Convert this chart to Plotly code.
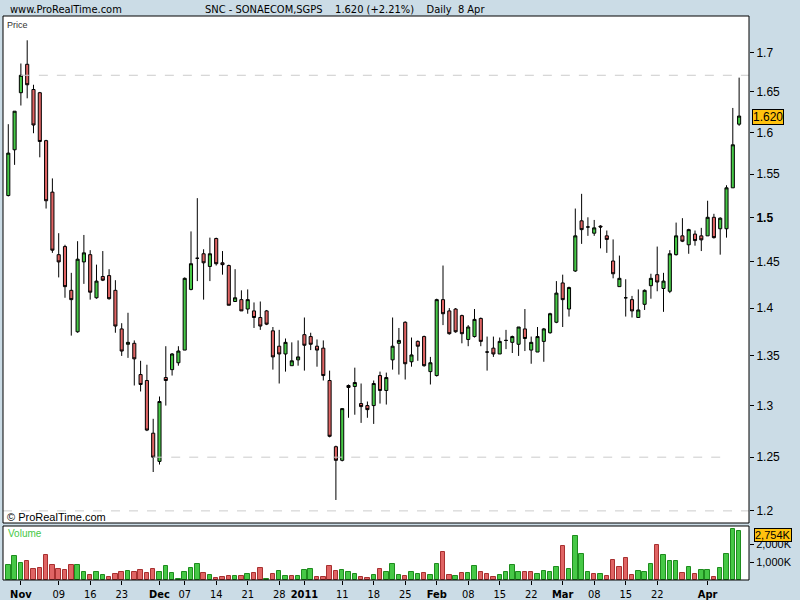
import plotly.graph_objects as go
import pandas as pd
import math

# ---------------- data ----------------
dates = pd.bdate_range("2010-10-28", "2011-04-08")  # 117 trading days

opens = [1.525, 1.579, 1.649, 1.685, 1.653, 1.649, 1.590, 1.529, 1.458, 1.467,
         1.419, 1.375, 1.450, 1.458, 1.411, 1.434, 1.435, 1.419, 1.378, 1.362,
         1.363, 1.331, 1.325, 1.273, 1.246, 1.328, 1.336, 1.343, 1.356, 1.420,
         1.454, 1.459, 1.445, 1.476, 1.449, 1.446, 1.407, 1.409, 1.399, 1.397,
         1.390, 1.397, 1.376, 1.360, 1.352, 1.340, 1.346, 1.372, 1.370, 1.360,
         1.358, 1.325, 1.260, 1.247, 1.320, 1.319, 1.302, 1.300, 1.300, 1.330,
         1.315, 1.346, 1.363, 1.385, 1.344, 1.365, 1.370, 1.334, 1.330, 1.409,
         1.397, 1.399, 1.392, 1.367, 1.370, 1.389, 1.354, 1.358, 1.352, 1.366,
         1.364, 1.362, 1.378, 1.356, 1.354, 1.365, 1.374, 1.385, 1.427, 1.399,
         1.440, 1.496, 1.489, 1.482, 1.490, 1.479, 1.451, 1.423, 1.411, 1.409,
         1.390, 1.404, 1.424, 1.436, 1.421, 1.418, 1.458, 1.479, 1.469, 1.481,
         1.479, 1.479, 1.500, 1.487, 1.487, 1.534, 1.610]
highs = [1.610, 1.626, 1.686, 1.716, 1.659, 1.650, 1.591, 1.545, 1.482, 1.469,
         1.438, 1.473, 1.480, 1.463, 1.447, 1.462, 1.442, 1.430, 1.384, 1.395,
         1.366, 1.345, 1.341, 1.287, 1.309, 1.360, 1.353, 1.360, 1.433, 1.484,
         1.522, 1.464, 1.477, 1.477, 1.462, 1.447, 1.442, 1.419, 1.420, 1.406,
         1.407, 1.398, 1.380, 1.377, 1.368, 1.364, 1.366, 1.390, 1.374, 1.367,
         1.366, 1.335, 1.261, 1.297, 1.321, 1.338, 1.322, 1.304, 1.325, 1.334,
         1.333, 1.390, 1.379, 1.386, 1.369, 1.366, 1.371, 1.349, 1.410, 1.446,
         1.400, 1.400, 1.393, 1.382, 1.399, 1.390, 1.370, 1.370, 1.369, 1.377,
         1.371, 1.380, 1.399, 1.370, 1.380, 1.379, 1.395, 1.429, 1.436, 1.423,
         1.510, 1.527, 1.500, 1.497, 1.491, 1.485, 1.475, 1.457, 1.431, 1.413,
         1.420, 1.420, 1.437, 1.467, 1.438, 1.463, 1.494, 1.499, 1.487, 1.485,
         1.488, 1.519, 1.504, 1.500, 1.537, 1.630, 1.668]
lows = [1.524, 1.561, 1.633, 1.642, 1.599, 1.570, 1.510, 1.460, 1.433, 1.411,
        1.371, 1.374, 1.426, 1.409, 1.410, 1.429, 1.409, 1.374, 1.350, 1.348,
        1.320, 1.314, 1.275, 1.236, 1.243, 1.300, 1.330, 1.340, 1.356, 1.419,
        1.429, 1.409, 1.429, 1.446, 1.436, 1.403, 1.407, 1.397, 1.394, 1.379,
        1.377, 1.382, 1.336, 1.322, 1.334, 1.340, 1.340, 1.335, 1.356, 1.339,
        1.325, 1.269, 1.210, 1.246, 1.288, 1.291, 1.283, 1.288, 1.282, 1.302,
        1.301, 1.336, 1.331, 1.326, 1.339, 1.345, 1.339, 1.321, 1.329, 1.382,
        1.372, 1.374, 1.363, 1.360, 1.369, 1.360, 1.335, 1.349, 1.352, 1.357,
        1.353, 1.350, 1.355, 1.342, 1.354, 1.344, 1.373, 1.384, 1.380, 1.391,
        1.439, 1.470, 1.479, 1.479, 1.465, 1.460, 1.432, 1.423, 1.391, 1.390,
        1.390, 1.398, 1.410, 1.418, 1.396, 1.416, 1.457, 1.472, 1.459, 1.468,
        1.462, 1.479, 1.476, 1.458, 1.477, 1.534, 1.608]
closes = [1.575, 1.626, 1.671, 1.659, 1.609, 1.589, 1.519, 1.463, 1.450, 1.423,
          1.409, 1.453, 1.460, 1.417, 1.429, 1.430, 1.410, 1.381, 1.355, 1.364,
          1.347, 1.321, 1.276, 1.250, 1.304, 1.325, 1.352, 1.355, 1.432, 1.448,
          1.454, 1.449, 1.459, 1.448, 1.447, 1.403, 1.411, 1.397, 1.409, 1.390,
          1.381, 1.383, 1.349, 1.352, 1.364, 1.345, 1.349, 1.361, 1.362, 1.356,
          1.330, 1.270, 1.247, 1.297, 1.318, 1.323, 1.299, 1.296, 1.322, 1.315,
          1.328, 1.360, 1.366, 1.342, 1.351, 1.360, 1.340, 1.343, 1.409, 1.394,
          1.373, 1.375, 1.373, 1.380, 1.388, 1.365, 1.354, 1.352, 1.365, 1.366,
          1.370, 1.380, 1.368, 1.364, 1.370, 1.378, 1.394, 1.416, 1.409, 1.422,
          1.479, 1.486, 1.489, 1.488, 1.489, 1.475, 1.437, 1.432, 1.411, 1.397,
          1.398, 1.419, 1.432, 1.428, 1.429, 1.459, 1.479, 1.473, 1.486, 1.4737,
          1.4745, 1.500, 1.477, 1.499, 1.534, 1.585, 1.620]
volumes_k = [833, 1333, 944, 1055, 611, 667, 1389, 833, 611, 556,
             833, 833, 444, 278, 444, 278, 167, 350, 444, 500,
             444, 556, 389, 611, 444, 778, 389, 56, 444, 667,
             889, 389, 278, 111, 167, 222, 222, 222, 333, 389,
             683, 56, 333, 500, 222, 222, 222, 556, 611, 167,
             167, 778, 500, 556, 444, 333, 167, 111, 278, 611,
             444, 889, 278, 222, 444, 333, 389, 278, 889, 1556,
             278, 222, 389, 389, 778, 444, 333, 167, 278, 444,
             833, 444, 444, 444, 333, 500, 444, 722, 1889, 611,
             2444, 1444, 444, 333, 333, 222, 1111, 722, 1222, 278,
             500, 444, 889, 1944, 1389, 1055, 1055, 389, 722, 333,
             556, 556, 167, 667, 1444, 2833, 2754]

tick_dates = ["2010-11-01", "2010-11-09", "2010-11-16", "2010-11-23",
              "2010-12-01", "2010-12-07", "2010-12-14", "2010-12-21", "2010-12-28",
              "2011-01-03", "2011-01-11", "2011-01-18", "2011-01-25",
              "2011-02-01", "2011-02-08", "2011-02-15", "2011-02-22",
              "2011-03-01", "2011-03-08", "2011-03-15", "2011-03-22",
              "2011-04-01"]
tick_labels = ["<b>Nov</b>", "09", "16", "23",
               "<b>Dec</b>", "07", "14", "21", "28",
               "<b>2011</b>", "11", "18", "25",
               "<b>Feb</b>", "08", "15", "22",
               "<b>Mar</b>", "08", "15", "22",
               "<b>Apr</b>"]

price_ticks = [1.2, 1.25, 1.3, 1.35, 1.4, 1.45, 1.5, 1.55, 1.6, 1.65, 1.7]
price_tick_text = ["1.2", "1.25", "1.3", "1.35", "1.4", "1.45", "<b>1.5</b>",
                   "1.55", "1.6", "1.65", "1.7"]
vol_ticks = [1000, 2000]
vol_tick_text = ["1,000K", "2,000K"]

# ---------------- figure ----------------
idx = list(range(len(dates)))
tick_pos = [dates.get_loc(pd.Timestamp(d)) for d in tick_dates]
X_MIN, X_MAX = -0.84, 117.57

GREEN = "#46c846"
RED = "#e06464"
vol_fill, vol_line = [], []
for i, c in enumerate(closes):
    up = True if i == 0 else c >= closes[i - 1]
    vol_fill.append(GREEN if up else RED)
    vol_line.append("#1e8c1e" if up else "#a83030")

BG = "#cbdce6"
NARROW = "Liberation Sans Narrow, DejaVu Sans Condensed, Arial Narrow, sans-serif"
TICKFONT = "Liberation Sans, Arial, sans-serif"

fig = go.Figure()

# reference dashed lines
dash_line = dict(color="#cccccc", width=1, dash="dash")
fig.add_trace(go.Scatter(x=[2, X_MAX], y=[closes[2], closes[2]], mode="lines",
                         line=dash_line, hoverinfo="skip", showlegend=False))
fig.add_trace(go.Scatter(x=[23, 113], y=[closes[23], closes[23]], mode="lines",
                         line=dash_line, hoverinfo="skip", showlegend=False))
fig.add_trace(go.Scatter(x=[X_MIN, X_MAX], y=[1.2, 1.2], mode="lines",
                         line=dash_line, hoverinfo="skip", showlegend=False))

fig.add_trace(go.Candlestick(
    x=idx, open=opens, high=highs, low=lows, close=closes,
    increasing=dict(fillcolor=GREEN, line=dict(color="black", width=1)),
    decreasing=dict(fillcolor=RED, line=dict(color="black", width=1)),
    whiskerwidth=0, showlegend=False, xaxis="x", yaxis="y"))

fig.add_trace(go.Bar(
    x=idx, y=volumes_k, width=0.7,
    marker=dict(color=vol_fill, line=dict(color=vol_line, width=1)),
    showlegend=False, xaxis="x", yaxis="y2"))

H_TOP, H_BOT = 16, 580
W_L, W_R = 3, 749


def px(x):
    return (x - W_L) / (W_R - W_L)


def py(y):
    return (H_BOT - y) / (H_BOT - H_TOP)


fig.update_layout(
    width=800, height=600,
    margin=dict(l=W_L, r=800 - W_R, t=H_TOP, b=600 - H_BOT, autoexpand=False),
    paper_bgcolor=BG, plot_bgcolor="white",
    font=dict(family=TICKFONT, size=12, color="black"),
    bargap=0,
    xaxis=dict(range=[X_MIN, X_MAX], anchor="y2", tickvals=tick_pos, ticktext=tick_labels,
               ticks="outside", ticklen=4, tickcolor="black", showgrid=False,
               zeroline=False, showline=False, tickangle=0, automargin=False,
               tickfont=dict(size=11, family=NARROW),
               rangeslider=dict(visible=False), fixedrange=True),
    yaxis=dict(type="log", range=[math.log10(1.189), math.log10(1.748)],
               domain=[py(523), 1], side="right", anchor="x", automargin=False,
               tickvals=price_ticks, ticktext=price_tick_text,
               ticks="outside", ticklen=4, tickcolor="black", showgrid=False,
               zeroline=False, showline=False, tickfont=dict(size=12)),
    yaxis2=dict(range=[0, 3017], domain=[0, py(526)], side="right", anchor="x",
                automargin=False, tickvals=vol_ticks, ticktext=vol_tick_text,
                ticks="outside", ticklen=4, tickcolor="black", showgrid=False,
                zeroline=False, showline=False, tickfont=dict(size=11)),
    shapes=[
        dict(type="rect", xref="x domain", yref="y domain", x0=0, x1=1, y0=0, y1=1,
             line=dict(color="black", width=1)),
        dict(type="rect", xref="x domain", yref="y2 domain", x0=0, x1=1, y0=0, y1=1,
             line=dict(color="black", width=1)),
    ],
    annotations=[
        dict(text="www.ProRealTime.com", xref="paper", yref="paper", x=px(8), y=py(10),
             xanchor="left", yanchor="middle", showarrow=False,
             font=dict(family=NARROW, size=11, color="black")),
        dict(text="SNC - SONAECOM,SGPS\u00a0\u00a0\u00a0\u00a01.620 (+2.21%)\u00a0\u00a0\u00a0\u00a0Daily\u00a0\u00a08 Apr",
             xref="paper", yref="paper", x=px(203), y=py(10),
             xanchor="left", yanchor="middle", showarrow=False,
             font=dict(family=NARROW, size=11, color="black")),
        dict(text="Price", xref="paper", yref="paper", x=px(5), y=py(25),
             xanchor="left", yanchor="middle", showarrow=False,
             font=dict(family=TICKFONT, size=9, color="#333333")),
        dict(text="© ProRealTime.com", xref="paper", yref="paper", x=px(5), y=py(517),
             xanchor="left", yanchor="middle", showarrow=False,
             font=dict(family=TICKFONT, size=11, color="black")),
        dict(text="Volume", xref="paper", yref="paper", x=px(6), y=py(533),
             xanchor="left", yanchor="middle", showarrow=False,
             font=dict(family=TICKFONT, size=10, color=GREEN)),
        dict(text="1.620", xref="paper", yref="paper", x=px(752), y=py(117),
             xanchor="left", yanchor="middle", showarrow=False,
             bgcolor="#ffc20e", bordercolor="black", borderwidth=1, borderpad=0,
             font=dict(family=TICKFONT, size=12, color="black")),
        dict(text="2,754K", xref="paper", yref="paper", x=px(754), y=py(535),
             xanchor="left", yanchor="middle", showarrow=False,
             bgcolor="#ffc20e", bordercolor="black", borderwidth=1, borderpad=0,
             font=dict(family=TICKFONT, size=11, color="black")),
    ],
)

fig.write_html("out.html", config={"displayModeBar": False},
               post_script="document.body.style.margin='0';document.body.style.overflow='hidden';")
